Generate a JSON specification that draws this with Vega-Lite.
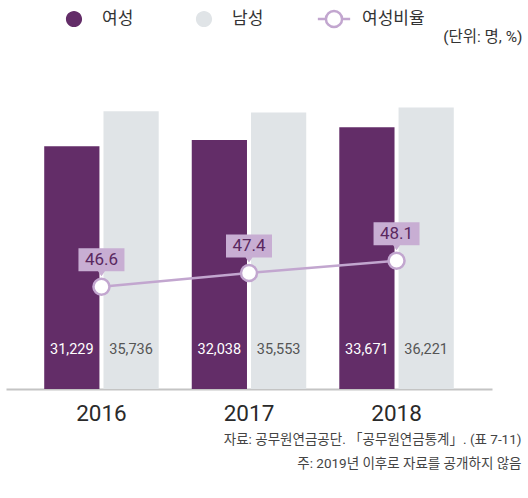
{
  "$schema": "https://vega.github.io/schema/vega-lite/v6.json",
  "width": 486,
  "height": 311,
  "autosize": {"type": "none"},
  "padding": {"left": 6, "top": 78, "right": 36, "bottom": 109},
  "background": "white",
  "config": {
    "view": {"stroke": null},
    "font": "Roboto, Noto Sans CJK KR",
    "text": {"font": "Roboto, Noto Sans CJK KR"}
  },
  "datasets": {
    "bars": [
      {"year": "2016", "gender": "여성", "value": 31229},
      {"year": "2016", "gender": "남성", "value": 35736},
      {"year": "2017", "gender": "여성", "value": 32038},
      {"year": "2017", "gender": "남성", "value": 35553},
      {"year": "2018", "gender": "여성", "value": 33671},
      {"year": "2018", "gender": "남성", "value": 36221}
    ],
    "rate": [
      {"year": "2016", "rate": 46.6},
      {"year": "2017", "rate": 47.4},
      {"year": "2018", "rate": 48.1}
    ]
  },
  "encoding": {
    "x": {
      "field": "year",
      "type": "nominal",
      "scale": {"paddingInner": 0.224, "paddingOuter": 0.259},
      "axis": {
        "title": ["자료: 공무원연금공단. 「공무원연금통계」. (표 7-11)", "주: 2019년 이후로 자료를 공개하지 않음"],
        "titleX": 515,
        "titleY": 54,
        "titleAlign": "right",
        "titleAnchor": null,
        "titleBaseline": "alphabetic",
        "titleLineHeight": 24,
        "titleFontSize": 13.5,
        "titleFontWeight": "normal",
        "titleColor": "#444",
        "titleFont": "Roboto, Noto Sans CJK KR",
        "labelAngle": 0,
        "labelFontSize": 22.5,
        "labelColor": "#2a2a2a",
        "labelFontWeight": "normal",
        "labelPadding": 13,
        "labelFont": "Roboto",
        "ticks": false,
        "domainColor": "#c4c4c4",
        "domainWidth": 2,
        "grid": false
      }
    }
  },
  "layer": [
    {
      "data": {"name": "bars"},
      "encoding": {
        "xOffset": {"field": "gender", "type": "nominal", "scale": {"domain": ["여성", "남성"], "paddingInner": 0.068, "paddingOuter": 0}}
      },
      "layer": [
        {
          "mark": {"type": "bar"},
          "encoding": {
            "y": {"field": "value", "type": "quantitative", "scale": {"domain": [0, 40000]}, "axis": null},
            "color": {
              "field": "gender",
              "type": "nominal",
              "scale": {"domain": ["여성", "남성", "여성비율"], "range": ["#632d68", "#e0e4e7", "#ffffff"]},
              "legend": {
                "orient": "none",
                "legendX": 58,
                "legendY": -69,
                "direction": "horizontal",
                "title": null,
                "symbolType": "circle",
                "symbolSize": 289,
                "symbolStrokeWidth": 2.5,
                "labelFontSize": 17,
                "labelColor": "#333",
                "labelOffset": 18,
                "columnPadding": 48,
                "gridAlign": "none",
                "labelFont": "Noto Sans CJK KR",
                "encode": {
                  "symbols": {
                    "update": {
                      "shape": {"value": "M-1.9,0H-0.95M0.95,0H1.9M-0.95,0A0.95,0.95 0 1,0 0.95,0A0.95,0.95 0 1,0 -0.95,0"},
                      "stroke": {"signal": "datum.value === '여성비율' ? '#c2a6cf' : 'transparent'"},
                      "opacity": {"value": 1}
                    }
                  }
                }
              }
            }
          }
        },
        {
          "mark": {"type": "text", "fontSize": 14.5, "baseline": "middle", "align": "center", "letterSpacing": -0.3},
          "encoding": {
            "y": {"datum": 5000, "type": "quantitative", "scale": {"domain": [0, 40000]}},
            "text": {"field": "value", "type": "quantitative", "format": ","},
            "color": {"condition": {"test": "datum.gender === '여성'", "value": "#ffffff"}, "value": "#555555"}
          }
        }
      ]
    },
    {
      "data": {"name": "rate"},
      "encoding": {
        "y": {
          "field": "rate",
          "type": "quantitative",
          "scale": {"domain": [40.7, 58.65]},
          "axis": {
            "orient": "right",
            "domain": false,
            "ticks": false,
            "labels": false,
            "grid": false,
            "title": "(단위: 명, %)",
            "titleAngle": 0,
            "titleX": 30,
            "titleY": -42,
            "titleAlign": "right",
            "titleBaseline": "middle",
            "titleFontSize": 15.5,
            "titleFontWeight": "normal",
            "titleColor": "#333",
            "titleFont": "Roboto, Noto Sans CJK KR"
          }
        }
      },
      "layer": [
        {"mark": {"type": "line", "color": "#c2a6cf", "strokeWidth": 2.5}, "encoding": {}},
        {
          "mark": {"type": "point", "shape": "M-1,-0.5H1V0.5H0.15L0,0.72L-0.15,0.5H-1Z", "size": 2116, "filled": true, "fill": "#c8aed3", "opacity": 1, "strokeWidth": 0, "yOffset": -27},
          "encoding": {}
        },
        {
          "mark": {"type": "point", "shape": "circle", "size": 256, "filled": false, "fill": "#ffffff", "fillOpacity": 1, "stroke": "#c2a6cf", "strokeWidth": 2.5, "opacity": 1},
          "encoding": {}
        },
        {
          "mark": {"type": "text", "fontSize": 17, "color": "#5a2860", "baseline": "middle", "align": "center", "dy": -27},
          "encoding": {"text": {"field": "rate", "type": "quantitative", "format": ".1f"}}
        }
      ]
    }
  ],
  "resolve": {"scale": {"y": "independent"}}
}
